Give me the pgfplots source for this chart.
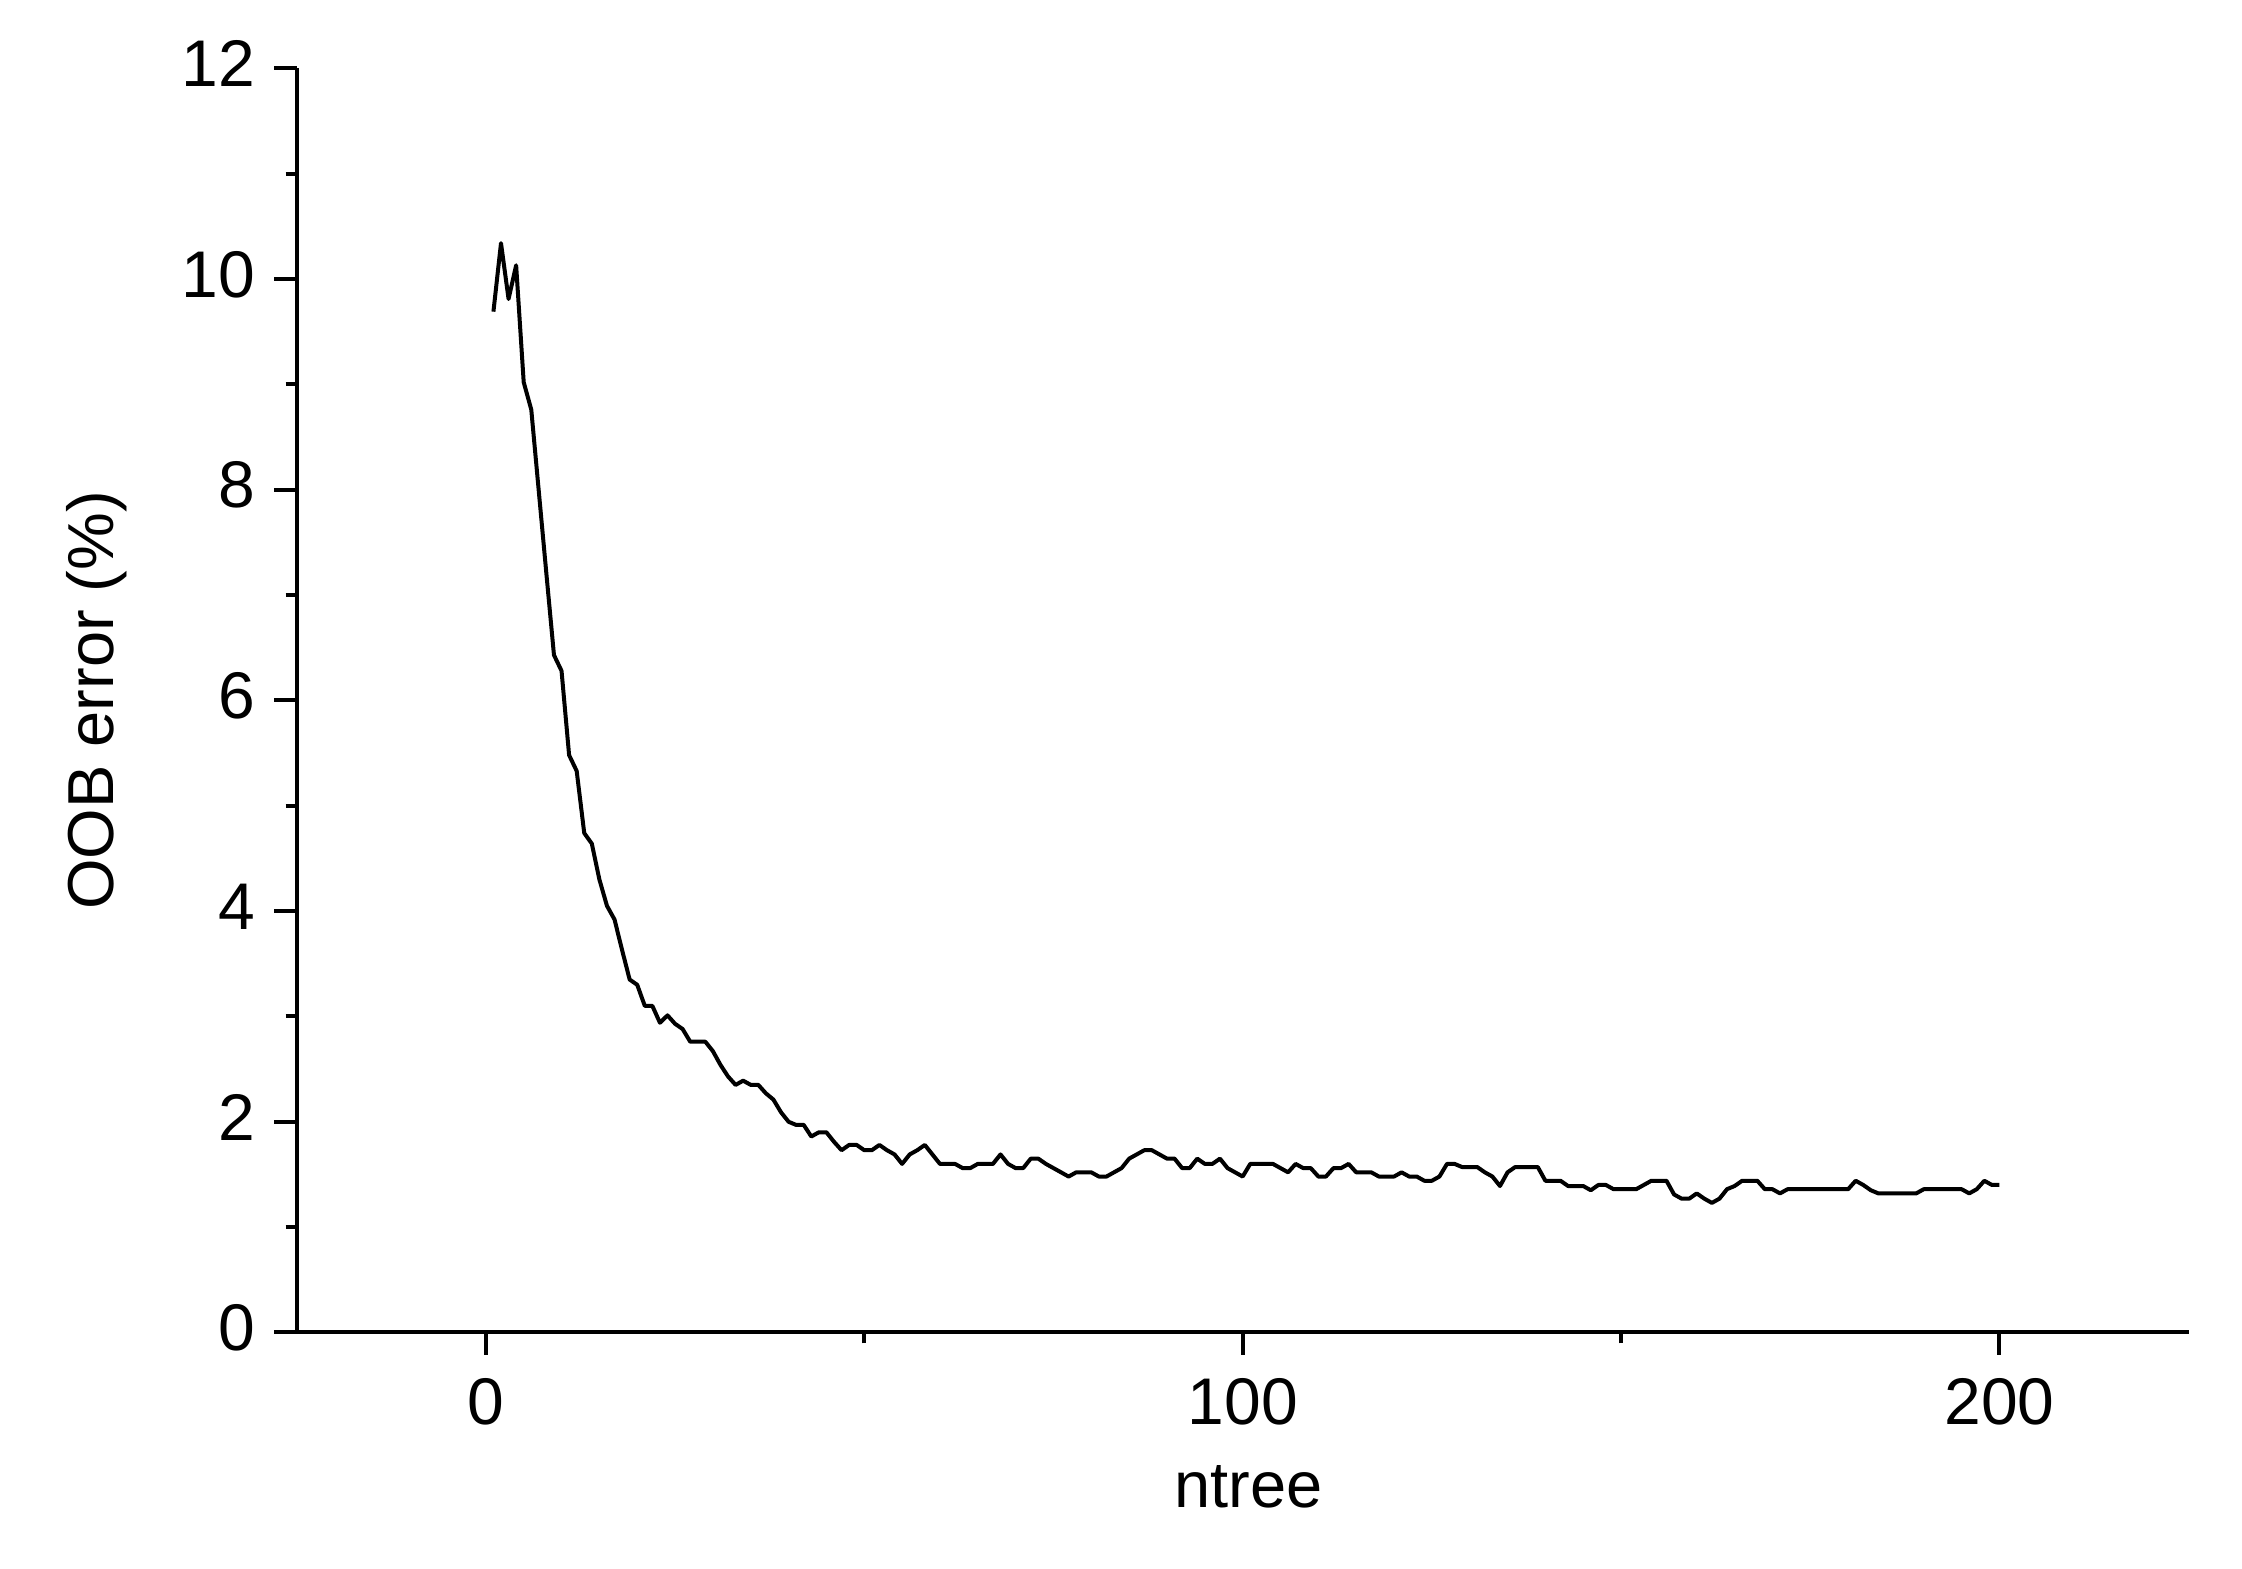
\documentclass[border=0pt]{standalone}
\usepackage{fontspec}
\setmainfont{Liberation Sans}
\usepackage{pgfplots}
\pgfplotsset{compat=1.18}

\pgfplotstableread{
n err
1 9.69
2 10.34
3 9.81
4 10.13
5 9.02
6 8.76
7 7.98
8 7.20
9 6.43
10 6.28
11 5.48
12 5.33
13 4.74
14 4.64
15 4.30
16 4.05
17 3.92
18 3.63
19 3.35
20 3.30
21 3.10
22 3.10
23 2.94
24 3.01
25 2.93
26 2.88
27 2.76
28 2.76
29 2.76
30 2.67
31 2.54
32 2.43
33 2.35
34 2.39
35 2.35
36 2.35
37 2.27
38 2.21
39 2.09
40 2.00
41 1.97
42 1.97
43 1.86
44 1.90
45 1.90
46 1.81
47 1.73
48 1.78
49 1.78
50 1.73
51 1.73
52 1.78
53 1.73
54 1.69
55 1.60
56 1.69
57 1.73
58 1.78
59 1.69
60 1.60
61 1.60
62 1.60
63 1.56
64 1.56
65 1.60
66 1.60
67 1.60
68 1.69
69 1.60
70 1.56
71 1.56
72 1.65
73 1.65
74 1.60
75 1.56
76 1.52
77 1.48
78 1.52
79 1.52
80 1.52
81 1.48
82 1.48
83 1.52
84 1.56
85 1.65
86 1.69
87 1.73
88 1.73
89 1.69
90 1.65
91 1.65
92 1.56
93 1.56
94 1.65
95 1.60
96 1.60
97 1.65
98 1.56
99 1.52
100 1.48
101 1.60
102 1.60
103 1.60
104 1.60
105 1.56
106 1.52
107 1.60
108 1.56
109 1.56
110 1.48
111 1.48
112 1.56
113 1.56
114 1.60
115 1.52
116 1.52
117 1.52
118 1.48
119 1.48
120 1.48
121 1.52
122 1.48
123 1.48
124 1.44
125 1.44
126 1.48
127 1.60
128 1.60
129 1.57
130 1.57
131 1.57
132 1.52
133 1.48
134 1.39
135 1.52
136 1.57
137 1.57
138 1.57
139 1.57
140 1.44
141 1.44
142 1.44
143 1.39
144 1.39
145 1.39
146 1.35
147 1.40
148 1.40
149 1.36
150 1.36
151 1.36
152 1.36
153 1.40
154 1.44
155 1.44
156 1.44
157 1.31
158 1.27
159 1.27
160 1.32
161 1.27
162 1.23
163 1.27
164 1.36
165 1.39
166 1.44
167 1.44
168 1.44
169 1.36
170 1.36
171 1.32
172 1.36
173 1.36
174 1.36
175 1.36
176 1.36
177 1.36
178 1.36
179 1.36
180 1.36
181 1.44
182 1.40
183 1.35
184 1.32
185 1.32
186 1.32
187 1.32
188 1.32
189 1.32
190 1.36
191 1.36
192 1.36
193 1.36
194 1.36
195 1.36
196 1.32
197 1.36
198 1.44
199 1.40
200 1.40
}\oobdata

\begin{document}
\begin{tikzpicture}
\begin{axis}[
    scale only axis,
    width=378.5pt, height=252.9pt,
    xmin=-25, xmax=225,
    ymin=0, ymax=12,
    axis lines*=left,
    axis line style={line width=0.8pt},
    every tick/.style={black, line width=0.8pt},
    tick align=outside,
    major tick length=4.5pt,
    minor tick length=2.2pt,
    xtick={0,100,200},
    minor xtick={50,150},
    ytick={0,2,...,12},
    minor ytick={1,3,...,11},
    /pgf/number format/assume math mode=true,
    tick label style={font=\fontsize{13.2}{15}\selectfont, inner sep=0pt},
    xticklabel style={anchor=north, yshift=-4.5pt},
    yticklabel style={anchor=east, xshift=-3.6pt, yshift=0.9pt},
    label style={font=\fontsize{13}{15}\selectfont},
    xlabel={ntree},
    ylabel={OOB error (\%)},
    xlabel style={at={(rel axis cs:0.503,-0.1388)}, anchor=base, inner sep=0pt},
    ylabel style={at={(rel axis cs:-0.0967,0.5)}, anchor=base, inner sep=0pt},
]
\addplot[black, line width=0.8pt, mark=none, line join=round] table[x=n, y=err] {\oobdata};
\coordinate (bbsw) at (rel axis cs:-0.1568,-0.187);
\coordinate (bbne) at (rel axis cs:1.0282,1.054);
\end{axis}
\path (bbsw) rectangle (bbne);
\end{tikzpicture}
\end{document}
